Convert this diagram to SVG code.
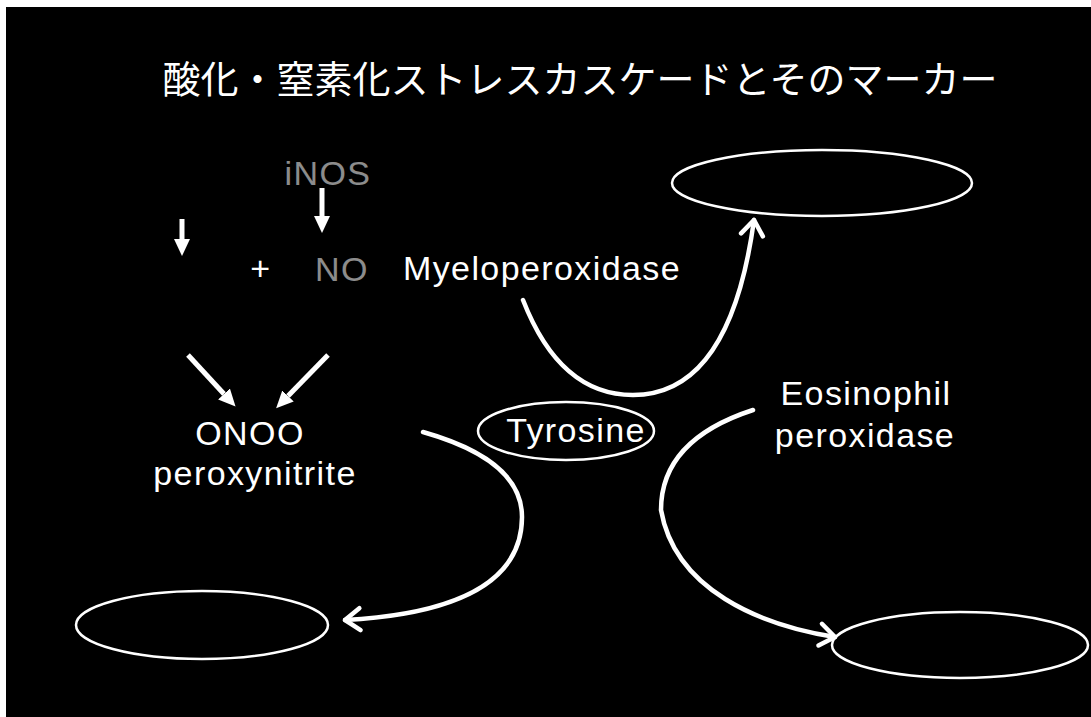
<svg xmlns="http://www.w3.org/2000/svg" width="1091" height="717" viewBox="0 0 1091 717">
  <style>
    .lbl { font-family: "Liberation Sans", Arial, sans-serif; fill: #fff; font-size: 34px; letter-spacing: 1.4px; }
    .faint { opacity: 0.55; }
    .title { font-family: "Noto Sans CJK JP", "Noto Sans CJK SC", sans-serif; fill: #fff; font-size: 38px; }
    .node { fill: none; stroke: #fff; stroke-width: 2.5; }
    .shaft { fill: none; stroke: #fff; stroke-width: 5; }
    .curve { fill: none; stroke: #fff; stroke-width: 4.5; stroke-linecap: round; }
  </style>
  <defs>
    <!-- solid head for the short reaction arrows -->
    <marker id="tri" viewBox="0 -9 18 18" refX="0" refY="0" markerWidth="18" markerHeight="18" markerUnits="userSpaceOnUse" orient="auto">
      <path d="M0,-8 L17,0 L0,8 Z" fill="#fff"/>
    </marker>
    <!-- open chevron head for the curved enzyme arrows -->
    <marker id="chev" viewBox="-18 -14 20 28" refX="0" refY="0" markerWidth="20" markerHeight="28" markerUnits="userSpaceOnUse" orient="auto" overflow="visible">
      <path d="M-15,-11 L0,0 L-15,11" fill="none" stroke="#fff" stroke-width="4.5" stroke-linecap="round" stroke-linejoin="round"/>
    </marker>
  </defs>

  <!-- page and slide -->
  <rect x="0" y="0" width="1091" height="717" fill="#fff"/>
  <rect x="6" y="7" width="1085" height="710" fill="#000"/>

  <text class="title" x="580" y="93" text-anchor="middle">酸化・窒素化ストレスカスケードとそのマーカー</text>

  <!-- reaction side: iNOS, NO and peroxynitrite -->
  <g id="inos">
    <text class="lbl faint" x="328" y="185" text-anchor="middle" font-size="28">iNOS</text>
  </g>
  <g id="no">
    <text class="lbl faint" x="342" y="281" text-anchor="middle" font-size="28">NO</text>
  </g>
  <g id="plus">
    <text class="lbl" x="261" y="280" text-anchor="middle" font-size="28">+</text>
  </g>
  <g id="peroxynitrite">
    <text class="lbl" x="250" y="445" text-anchor="middle" font-size="32" letter-spacing="2">ONOO</text>
    <text class="lbl" x="255" y="485" text-anchor="middle" letter-spacing="1.2">peroxynitrite</text>
  </g>

  <!-- enzymes -->
  <g id="myeloperoxidase">
    <text class="lbl" x="542" y="280" text-anchor="middle" letter-spacing="1.5">Myeloperoxidase</text>
  </g>
  <g id="eosinophil-peroxidase">
    <text class="lbl" x="866" y="405" text-anchor="middle" letter-spacing="1.3">Eosinophil</text>
    <text class="lbl" x="865" y="447" text-anchor="middle">peroxidase</text>
  </g>

  <!-- substrate -->
  <g id="tyrosine">
    <ellipse class="node" cx="566" cy="431" rx="88" ry="29"/>
    <text class="lbl" x="576" y="442" text-anchor="middle" font-size="32" letter-spacing="0.5">Tyrosine</text>
  </g>

  <!-- empty product boxes -->
  <g id="product-top">
    <ellipse class="node" cx="822" cy="183" rx="150" ry="33"/>
  </g>
  <g id="product-left">
    <ellipse class="node" cx="202" cy="625" rx="126" ry="34"/>
  </g>
  <g id="product-right">
    <ellipse class="node" cx="960" cy="645" rx="128" ry="33"/>
  </g>

  <g id="connectors">
    <path class="shaft" d="M182,219 V239" marker-end="url(#tri)"/>
    <path class="shaft" d="M322,188 V216" marker-end="url(#tri)"/>
    <path class="shaft" d="M188,355 L224,394" marker-end="url(#tri)"/>
    <path class="shaft" d="M328,355 L288,396" marker-end="url(#tri)"/>

    <path class="curve" d="M523,300 Q560,395 633,395 Q730,395 754,220" marker-end="url(#chev)"/>
    <path class="curve" d="M423,432 Q522,460 522,517 Q522,610 345,620" marker-end="url(#chev)"/>
    <path class="curve" d="M753,410 Q661,440 661,510 C675,590 760,625 835,637" marker-end="url(#chev)"/>
  </g>
</svg>
